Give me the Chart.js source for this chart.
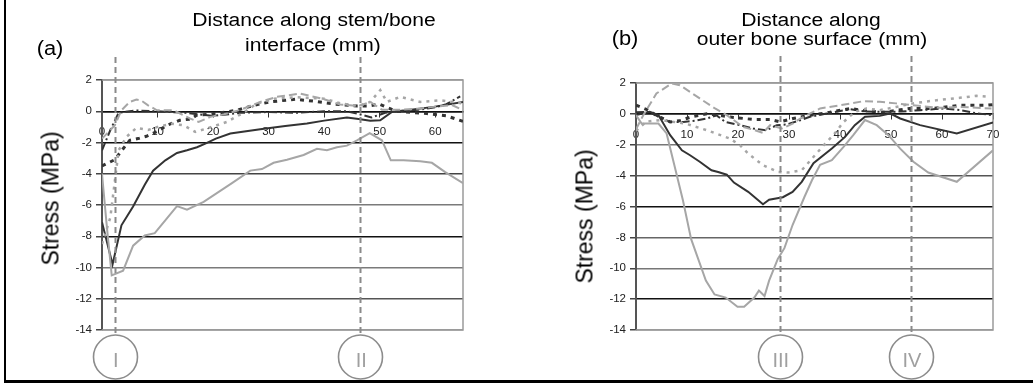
<!DOCTYPE html>
<html>
<head>
<meta charset="utf-8">
<script src="https://cdn.jsdelivr.net/npm/chart.js@4.4.1/dist/chart.umd.min.js"></script>
<style>
  html, body { margin: 0; padding: 0; background: #fff; }
  #fig { position: relative; width: 1033px; height: 383px; overflow: hidden; background: #fff;
         font-family: "Liberation Sans", Arial, sans-serif; }
  canvas { position: absolute; top: 0; }
  .t { position: absolute; white-space: nowrap; color: #000; text-align: center; }
  .num { position: absolute; color: #a0a0a0; font-size: 20px; line-height: 20px; text-align: center; width: 40px; }
</style>
</head>
<body>
<div id="fig">
  <canvas id="ca" width="516" height="383" style="left:0px"></canvas>
  <canvas id="cb" width="517" height="383" style="left:516px"></canvas>
</div>
<script>
// ---------------- DATA ----------------
// Panel (a): distance along stem/bone interface (mm) vs stress (MPa)
const aDarkSolid = [[0,-7.1],[1.9,-9.8],[3.5,-7.3],[5.6,-6.1],[7.7,-4.7],[9.2,-3.8],[11.4,-3.14],[13.5,-2.67],[15.3,-2.5],[17.1,-2.3],[18.6,-2.07],[20.5,-1.75],[23.1,-1.43],[28.5,-1.15],[33,-0.95],[36.9,-0.79],[40,-0.6],[44.1,-0.4],[46.2,-0.5],[48.3,-0.6],[50.1,-0.58],[52.2,-0.04],[54.9,0.06],[59.7,0.28],[65,0.6]];
const aGraySolid = [[0,-4],[0.85,-7.3],[1.75,-10.5],[3.8,-10.2],[5.6,-8.6],[7.7,-7.95],[9.5,-7.8],[13.5,-6.07],[15.3,-6.3],[18.3,-5.8],[23.4,-4.6],[26.7,-3.8],[28.8,-3.7],[30.9,-3.3],[33.3,-3.1],[36.3,-2.8],[38.7,-2.4],[40.5,-2.5],[42.3,-2.3],[44.1,-2.2],[45.9,-1.86],[48.2,-1.4],[50.4,-1.86],[52,-3.14],[54.3,-3.14],[57.3,-3.2],[59.4,-3.3],[61.8,-3.9],[65,-4.6]];
const aDarkDash = [[0,-2.5],[1.5,-1.2],[3,-0.1],[6,0.05],[10,0],[15,-0.1],[20,-0.3],[25,-0.1],[30,-0.05],[35,-0.1],[40,0],[44,0],[46,-0.15],[48.5,-0.4],[51,-0.1],[53,0],[57,0.1],[60,0.25],[62,0.45],[64.5,0.95]];
const aDarkDot = [[0,-3.5],[2.3,-3.1],[3.8,-2.4],[5,-1.86],[6.5,-1.75],[8,-1.6],[9.9,-1.3],[11.7,-0.9],[14,-0.58],[16,-0.5],[17,-0.26],[19.2,-0.2],[24.3,0.06],[27.3,0.38],[30.3,0.6],[34.8,0.77],[38,0.65],[42,0.45],[46,0.34],[48,0.34],[50,0.45],[53,0],[58.5,-0.15],[62.1,-0.3],[65,-0.65]];
const aGrayDash = [[0,-1.75],[2.3,-0.9],[3.5,0.06],[5,0.6],[6.2,0.75],[7,0.7],[8.3,0.38],[9.9,0.06],[12.9,0.06],[15.9,-0.47],[17.4,-0.68],[19.5,-0.36],[22,-0.2],[25,0.1],[28.5,0.6],[31.5,0.92],[35.7,1.13],[39.6,0.81],[42.9,0.43],[46.2,0.34],[48.3,0.6],[50.4,0.1],[54,0.1],[57.3,0.17],[59.7,0.28],[63,0.4],[65,0.06]];
const aGrayDot = [[0,-8.5],[0.8,-7.6],[1.5,-6.8],[2.3,-4.5],[3,-2.5],[4.4,-1.64],[6.2,-1.07],[8.3,-1.2],[10,-1.0],[12.5,-0.8],[14.7,-0.9],[16.8,-1.32],[19.8,-1.0],[22.5,-0.68],[25.2,-0.15],[27.9,0.49],[31,0.8],[35,0.9],[40,0.8],[43,0.5],[46.2,0.34],[48.3,0.6],[50.1,1.35],[51.3,0.6],[53.7,0.92],[57.3,0.6],[61,0.7],[65,0.5]];

// Panel (b): distance along outer bone surface (mm) vs stress (MPa)
const bDarkSolid = [[0,-0.08],[2.7,0.13],[4.4,-0.08],[6.7,-1.38],[9,-2.36],[10.6,-2.68],[12.5,-3.1],[14.8,-3.65],[16.1,-3.77],[17.8,-3.94],[19.2,-4.45],[22,-5.05],[24.9,-5.86],[26.1,-5.56],[28.8,-5.4],[30.7,-5.06],[32.5,-4.4],[34.8,-3.2],[38.4,-2.25],[41,-1.49],[42.9,-0.73],[44.9,-0.19],[47.8,-0.13],[49.8,0.03],[51.8,-0.3],[55.7,-0.73],[62.9,-1.27],[70,-0.56]];
const bGraySolid = [[0,-0.08],[1.1,-0.63],[4.4,-0.63],[6,-1.27],[7.5,-3.3],[9.2,-5.6],[10.8,-8.1],[13.7,-10.8],[15.4,-11.7],[17.6,-11.9],[19.9,-12.5],[21.2,-12.5],[23.2,-11.9],[24.1,-11.45],[25.2,-11.8],[26.1,-10.8],[27.8,-9.4],[29.1,-8.7],[30.7,-7.2],[33,-5.4],[34.5,-4.3],[36.1,-3.3],[38.4,-3.0],[40.7,-2.14],[42.6,-1.38],[44.9,-0.4],[47.2,-0.73],[49.5,-1.38],[51.8,-2.25],[54.4,-3.1],[57.3,-3.8],[62.9,-4.4],[70,-2.36]];
const bDarkDash = [[0,0.1],[2.7,0.13],[4.4,-0.19],[6.7,-0.52],[9.3,-0.52],[11.5,-0.45],[13.9,-0.3],[15.8,-0.1],[17.5,-0.52],[20.4,-0.73],[23,-0.95],[25.6,-1.06],[27.6,-0.73],[29.5,-0.69],[32.2,-0.41],[34.1,-0.19],[37.4,0.03],[42,0.3],[45,0.15],[48.5,0.13],[52,0.15],[55.7,0.24],[60.3,0.35],[63.5,0.25],[66.8,0.03],[70,-0.08]];
const bDarkDot = [[0,0.56],[2,0.3],[4,-0.1],[6.7,-0.52],[8.5,-0.45],[10.9,-0.19],[13.9,0],[16.5,-0.1],[19.1,-0.23],[23,-0.36],[26.3,-0.36],[28.2,-0.52],[30.8,-0.3],[34,-0.1],[38,0.1],[42,0.35],[45,0.2],[48.5,0.1],[53.7,0.35],[58.3,0.35],[63.5,0.56],[68.8,0.56],[70,0.6]];
const bGrayDash = [[0,-1.0],[1.4,-0.1],[4,1.32],[7,1.97],[8.6,1.86],[12.5,1.0],[15.5,0.35],[17.8,-0.08],[21,-0.84],[23.3,-1.06],[24.9,-1.23],[26.3,-0.73],[28.6,-0.95],[30.8,-0.62],[32.2,-0.3],[36.1,0.35],[40,0.56],[44.6,0.82],[47.8,0.78],[51,0.68],[54.3,0.56],[59.6,0.39],[63.5,0.45],[69.7,0.35]];
const bGrayDot = [[0,-1.1],[2,-0.5],[5,-0.4],[8,-0.55],[9.6,-0.62],[13.9,-1.06],[18.4,-1.6],[20.4,-2.03],[22,-2.57],[24.9,-3.33],[27.9,-3.77],[29.9,-3.8],[32.5,-3.65],[34.5,-2.9],[37.1,-1.92],[38.7,-1.38],[40.7,-0.52],[42.9,0.13],[45.2,0.35],[47.8,0.24],[51,0.45],[54.3,0.68],[59,0.89],[63.5,1.04],[66.8,1.17],[69.4,1.1]];

// Tick labels
const yTickValues = [2, 0, -2, -4, -6, -8, -10, -12, -14];
const xTickValuesA = [0, 10, 20, 30, 40, 50, 60];
const xTickValuesB = [0, 10, 20, 30, 40, 50, 60, 70];

// Reference (dashed) positions and their labels
const refPosA = [2.3, 46.5];
const refLabelsA = ['I', 'II'];
const refPosB = [28.2, 53.9];
const refLabelsB = ['III', 'IV'];

// Texts
const titleA = ['Distance along stem/bone', 'interface (mm)'];
const titleB = ['Distance along', 'outer bone surface (mm)'];
const yTitle = 'Stress (MPa)';

// ---------------- STYLES ----------------
const DARK = '#333333', LIGHT = '#a6a6a6';
function ds(points, color, width, dash) {
  return { data: points.map(p => ({ x: p[0], y: p[1] })), borderColor: color, borderWidth: width,
           borderDash: dash, pointRadius: 0, tension: 0, fill: false };
}
function datasets(s) {
  return [
    ds(s[4], LIGHT, 2, [8, 4]),
    ds(s[5], LIGHT, 2.5, [3, 5]),
    ds(s[2], DARK, 2, [8, 3, 2, 3]),
    ds(s[3], DARK, 3, [4, 5]),
    ds(s[1], LIGHT, 2, []),
    ds(s[0], DARK, 2, [])
  ];
}

const framePlugin = {
  id: 'frame',
  beforeDatasetsDraw(chart) {
    const { ctx, chartArea: { left, right, top, bottom } } = chart;
    ctx.save();
    ctx.strokeStyle = '#9a9a9a'; ctx.lineWidth = 1.5;
    ctx.beginPath(); ctx.moveTo(left, top); ctx.lineTo(right, top); ctx.lineTo(right, bottom); ctx.lineTo(left, bottom); ctx.stroke();
    ctx.restore();
  }
};
const refPlugin = {
  id: 'refs',
  afterDatasetsDraw(chart, args, opts) {
    const { ctx } = chart; const xs = chart.scales.x;
    ctx.save();
    opts.values.forEach(v => {
      const x = Math.round(xs.getPixelForValue(v)) + 0.5;
      ctx.strokeStyle = '#8a8a8a'; ctx.lineWidth = 2; ctx.setLineDash([6, 4]);
      ctx.beginPath(); ctx.moveTo(x, opts.top); ctx.lineTo(x, opts.cy - opts.r); ctx.stroke();
      ctx.setLineDash([]); ctx.lineWidth = 1.6; ctx.strokeStyle = '#8c8c8c';
      ctx.beginPath(); ctx.arc(x, opts.cy, opts.r, 0, Math.PI * 2); ctx.stroke();
    });
    ctx.restore();
  }
};

function makeChart(id, series, xMax, xTicks, pad, gridColors, refs) {
  return new Chart(document.getElementById(id), {
    type: 'line',
    data: { datasets: datasets(series) },
    plugins: [framePlugin, refPlugin],
    options: {
      responsive: false, animation: false, devicePixelRatio: 1,
      layout: { padding: pad },
      plugins: { legend: { display: false }, tooltip: { enabled: false }, refs: refs },
      scales: {
        x: {
          type: 'linear', min: 0, max: xMax, position: { y: 0 },
          afterBuildTicks: s => { s.ticks = xTicks.map(v => ({ value: v })); },
          ticks: { color: '#222', font: { family: 'Liberation Sans', size: 11.5 }, padding: 9, maxRotation: 0, autoSkip: false },
          grid: { drawOnChartArea: false, drawTicks: true, tickLength: 5, tickColor: '#333' },
          border: { color: '#111', width: 1.5 }
        },
        y: {
          type: 'linear', min: -14, max: 2,
          afterBuildTicks: s => { s.ticks = yTickValues.map(v => ({ value: v })); },
          afterFit: s => { s.width = 40; },
          ticks: { color: '#222', font: { family: 'Liberation Sans', size: 11.5 }, padding: 4 },
          grid: { color: c => gridColors[c.index] || '#777', lineWidth: 1.5, drawTicks: true, tickLength: 6, tickColor: '#444' },
          border: { color: '#555', width: 2 }
        }
      }
    }
  });
}

const chartA = makeChart('ca', [aDarkSolid, aGraySolid, aDarkDash, aDarkDot, aGrayDash, aGrayDot], 65, xTickValuesA,
  { left: 62, right: 53, top: 80, bottom: 53 },
  ['#9a9a9a', '#1a1a1a', '#111', '#444', '#7a7a7a', '#111', '#7a7a7a', '#555', '#9a9a9a'],
  { values: refPosA, top: 57, cy: 357, r: 22 });
const chartB = makeChart('cb', [bDarkSolid, bGraySolid, bDarkDash, bDarkDot, bGrayDash, bGrayDot], 70, xTickValuesB,
  { left: 80, right: 40, top: 83, bottom: 53 },
  ['#9a9a9a', '#1a1a1a', '#777', '#555', '#111', '#666', '#777', '#111', '#9a9a9a'],
  { values: refPosB, top: 56, cy: 357, r: 22 });

// ---------------- TEXT ----------------
const fig = document.getElementById('fig');
function text(str, cx, baseline, size, sx, extra) {
  const d = document.createElement('div');
  d.className = 't'; d.textContent = str;
  const w = 400;
  d.style.cssText += `left:${cx - w / 2}px;top:${baseline - 0.8465 * size}px;width:${w}px;font-size:${size}px;line-height:${size}px;transform:scaleX(${sx});` + (extra || '');
  fig.appendChild(d); return d;
}
text(titleA[0], 314, 26.7, 18, 1.17);
text(titleA[1], 312.5, 51.7, 18, 1.17);
text('(a)', 49.5, 56, 19.5, 1.12);
text(titleB[0], 811, 26, 18, 1.17);
text(titleB[1], 811.5, 45, 18, 1.17);
text('(b)', 625, 45.5, 19.5, 1.12);

function yLabel(cx, cy) {
  const d = document.createElement('div');
  d.className = 't'; d.textContent = yTitle;
  const w = 200, h = 23;
  d.style.cssText += `left:${cx - w / 2}px;top:${cy - h / 2}px;width:${w}px;height:${h}px;font-size:23px;line-height:${h}px;transform:rotate(-90deg);`;
  fig.appendChild(d);
}
yLabel(51, 198.5);
yLabel(585, 216.5);

function numerals(chart, offset, values, labels) {
  values.forEach((v, i) => {
    const x = chart.scales.x.getPixelForValue(v) + offset;
    const d = document.createElement('div');
    d.className = 'num'; d.textContent = labels[i];
    d.style.left = (x - 20 + 1) + 'px'; d.style.top = (367 - 0.8465 * 20) + 'px';
    fig.appendChild(d);
  });
}
numerals(chartA, 0, refPosA, refLabelsA);
numerals(chartB, 516, refPosB, refLabelsB);

// figure border (left and bottom rules)
const lb = document.createElement('div'); lb.style.cssText = 'position:absolute;left:4px;top:0;width:2px;height:383px;background:#000;';
const bb = document.createElement('div'); bb.style.cssText = 'position:absolute;left:4px;top:380px;width:1029px;height:3px;background:#000;';
fig.appendChild(lb); fig.appendChild(bb);
</script>
</body>
</html>
